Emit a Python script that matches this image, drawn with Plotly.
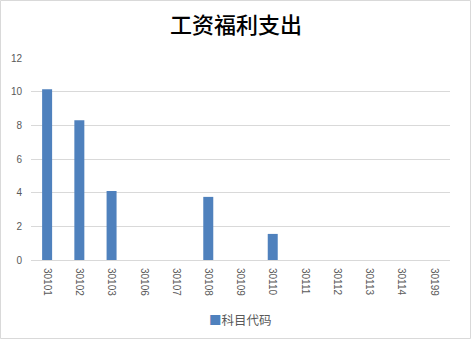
import plotly.graph_objects as go

categories = ["30101", "30102", "30103", "30106", "30107", "30108", "30109",
              "30110", "30111", "30112", "30113", "30114", "30199"]
values = [10.15, 8.3, 4.1, 0, 0, 3.75, 0, 1.55, 0, 0, 0, 0, 0]
series_name = "科目代码"
title_text = "工资福利支出"
bar_color = "#4F81BD"

W, H = 472, 340
ml, mr, mt, mb = 31, 22, 58, 80
pw, ph = W - ml - mr, H - mt - mb

def px_x(x):
    return (x - ml) / pw

def px_y(y):
    return (H - mb - y) / ph

fig = go.Figure()
fig.add_trace(go.Bar(
    x=categories, y=values, name=series_name,
    marker=dict(color=bar_color, line=dict(width=0)),
    showlegend=False,
))

fig.update_layout(
    width=W, height=H,
    margin=dict(l=ml, r=mr, t=mt, b=mb, autoexpand=False),
    paper_bgcolor="white", plot_bgcolor="white",
    bargap=0.69,
    title=dict(text=title_text, x=0.5, xanchor="center", y=1 - 25 / H, yanchor="middle",
               font=dict(family="Noto Sans CJK SC", size=22, color="#000000", weight=500)),
    xaxis=dict(type="category", tickangle=90, showgrid=False, automargin=False,
               showline=True, linecolor="#D9D9D9", linewidth=1, ticklabelstandoff=5,
               ticks="", tickfont=dict(family="Liberation Sans", size=10, color="#595959")),
    yaxis=dict(range=[0, 12], dtick=2, showgrid=True, gridcolor="#D9D9D9", gridwidth=1,
               zeroline=False, showline=False, ticks="", automargin=False, ticklabelstandoff=8,
               tickfont=dict(family="Liberation Sans", size=10, color="#595959")),
    annotations=[dict(xref="paper", yref="paper", x=0.5, y=px_y(319),
                      xanchor="center", yanchor="middle", showarrow=False,
                      text=f'<span style="color:{bar_color}">■</span>{series_name}',
                      font=dict(family="Noto Sans CJK SC", size=12.5, color="#595959"))],
    shapes=[dict(type="rect", xref="paper", yref="paper",
                 x0=px_x(0.5), x1=px_x(W - 1.5), y0=px_y(H - 1.5), y1=px_y(0.5),
                 line=dict(color="#D9D9D9", width=1), fillcolor="rgba(0,0,0,0)", layer="below")],
)

fig.write_html("out.html")
